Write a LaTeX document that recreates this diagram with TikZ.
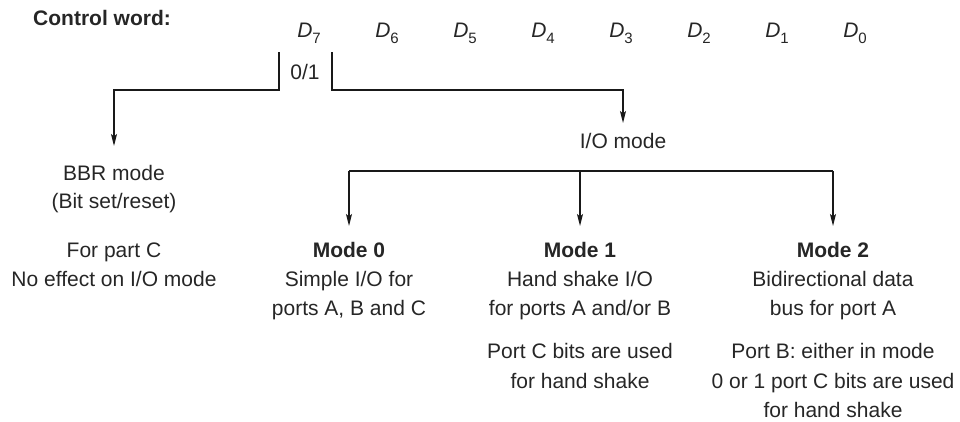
\documentclass[tikz,border=0pt]{standalone}
\usepackage{fontspec}
\setmainfont{Liberation Sans}
\usetikzlibrary{arrows.meta}
\newcommand{\dbit}[1]{{\itshape D}\raisebox{-6pt}{\fontsize{15}{15}\selectfont #1}}
\begin{document}
\begin{tikzpicture}[x=1pt,y=-1pt,
  txt/.style={inner sep=0pt, anchor=base, font=\fontsize{21}{29}\selectfont, text=black!85},
  bld/.style={txt, font=\fontsize{21}{29}\selectfont\bfseries},
  wire/.style={line width=1.4pt, black!90},
  arr/.style={wire, -{Stealth[length=12pt,width=6pt,inset=2.5pt]}}]
\useasboundingbox (0,0) rectangle (960,421);
% header
\node[bld, anchor=base west] (cw) at (33,25) {Control word:};
\foreach \i/\x in {7/309,6/387,5/465,4/543,3/621,2/699,1/777,0/855}
  \node[txt] (d\i) at (\x,37) {\dbit{\i}};
\node[txt] (sel) at (305,79) {0/1};
% split lines
\coordinate (lt) at (279,52);
\coordinate (rt) at (332,52);
\coordinate (bbrtip) at (114,146);
\coordinate (iotip) at (623,123);
\draw[arr] (lt) -- (279,90) -| (bbrtip);
\draw[arr] (rt) -- (332,90) -| (iotip);
% BBR block
\node[txt] (bbr1) at (114,180) {BBR mode};
\node[txt] (bbr2) at (114,208) {(Bit set/reset)};
\node[txt] (bbr3) at (114,257) {For part C};
\node[txt] (bbr4) at (114,286) {No effect on I/O mode};
% IO mode
\node[txt] (io) at (623,148) {I/O mode};
\coordinate (b0) at (349,171);
\coordinate (b1) at (580,171);
\coordinate (b2) at (833,171);
\coordinate (t0) at (349,226);
\coordinate (t1) at (580,226);
\coordinate (t2) at (833,226);
\draw[wire] (b0) -- (b2);
\draw[arr] (b0) -- (t0);
\draw[arr] (b1) -- (t1);
\draw[arr] (b2) -- (t2);
% Mode 0
\node[bld] (m0) at (349,257) {Mode 0};
\node[txt] (m0a) at (349,286) {Simple I/O for};
\node[txt] (m0b) at (349,315) {ports A, B and C};
% Mode 1
\node[bld] (m1) at (580,257) {Mode 1};
\node[txt] (m1a) at (580,286) {Hand shake I/O};
\node[txt] (m1b) at (580,315) {for ports A and/or B};
\node[txt] (m1c) at (580,358) {Port C bits are used};
\node[txt] (m1d) at (580,388) {for hand shake};
% Mode 2
\node[bld] (m2) at (833,257) {Mode 2};
\node[txt] (m2a) at (833,286) {Bidirectional data};
\node[txt] (m2b) at (833,315) {bus for port A};
\node[txt] (m2c) at (833,358) {Port B: either in mode};
\node[txt] (m2d) at (833,388) {0 or 1 port C bits are used};
\node[txt] (m2e) at (833,417) {for hand shake};
\end{tikzpicture}
\end{document}
